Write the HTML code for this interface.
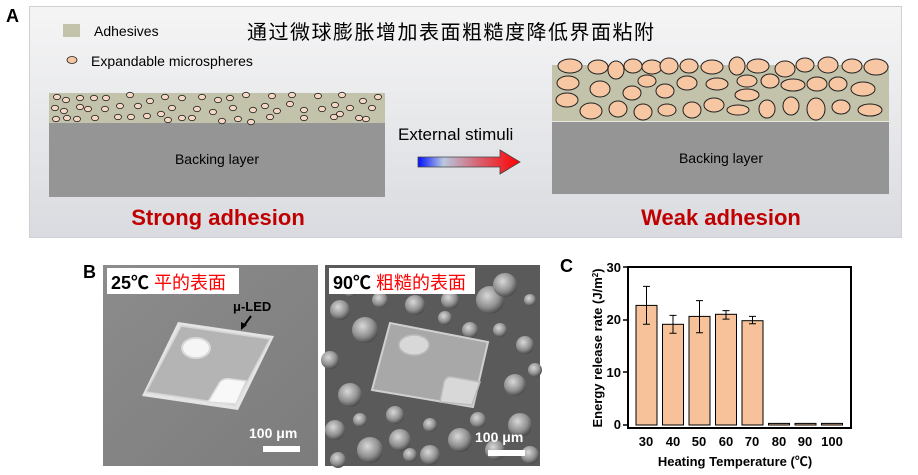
<!DOCTYPE html>
<html><head><meta charset="utf-8"><style>
body{margin:0;background:#fff;}
svg{display:block;font-family:"Liberation Sans","Noto Sans CJK SC",sans-serif;}
</style></head><body>
<svg width="918" height="475" viewBox="0 0 918 475" xmlns="http://www.w3.org/2000/svg">
<defs>
<linearGradient id="bg" x1="0" y1="0" x2="0" y2="1"><stop offset="0" stop-color="#f5f5f5"/><stop offset="1" stop-color="#d9dbe0"/></linearGradient>
<linearGradient id="arr" x1="0" x2="1"><stop offset="0" stop-color="#0010ff"/><stop offset="0.25" stop-color="#b8c8e0"/><stop offset="0.6" stop-color="#d86070"/><stop offset="1" stop-color="#ff0000"/></linearGradient>
<linearGradient id="sem1" x1="0" y1="0" x2="1" y2="1"><stop offset="0" stop-color="#8c8c8c"/><stop offset="1" stop-color="#7c7c7c"/></linearGradient>
<radialGradient id="bub" cx="0.4" cy="0.35" r="0.7"><stop offset="0" stop-color="#d8d8d8"/><stop offset="0.6" stop-color="#909090"/><stop offset="1" stop-color="#404040"/></radialGradient>
</defs>
<text x="6" y="22" font-size="18" font-weight="bold">A</text>
<rect x="29.5" y="6.5" width="872" height="231" fill="url(#bg)" stroke="#d0d0d0"/>
<rect x="63" y="24" width="17" height="13" fill="#c3c2aa"/>
<text x="94" y="36" font-size="14">Adhesives</text>
<ellipse cx="72" cy="60" rx="5" ry="3.5" fill="#f7c6a3" stroke="#222" stroke-width="0.8"/>
<text x="91" y="66" font-size="14">Expandable  microspheres</text>
<text x="247" y="39" font-size="20" letter-spacing="1.5">通过微球膨胀增加表面粗糙度降低界面粘附</text>
<rect x="49" y="93" width="336" height="30" fill="#c3c2aa"/>
<rect x="49" y="123" width="336" height="74" fill="#959595"/>
<text x="217" y="164" font-size="14" text-anchor="middle">Backing layer</text>
<g fill="#f7d8c4" stroke="#222" stroke-width="0.8">
<ellipse cx="57" cy="97" rx="3.5" ry="2.7"/><ellipse cx="66" cy="100" rx="3.5" ry="2.7"/><ellipse cx="80" cy="98" rx="3.5" ry="2.7"/><ellipse cx="94" cy="98" rx="3.5" ry="2.7"/><ellipse cx="106" cy="98" rx="3.5" ry="2.7"/><ellipse cx="130" cy="95" rx="3.5" ry="2.7"/><ellipse cx="150" cy="101" rx="3.5" ry="2.7"/><ellipse cx="165" cy="97" rx="3.5" ry="2.7"/><ellipse cx="182" cy="98" rx="3.5" ry="2.7"/><ellipse cx="202" cy="97" rx="3.5" ry="2.7"/><ellipse cx="218" cy="100" rx="3.5" ry="2.7"/><ellipse cx="230" cy="98" rx="3.5" ry="2.7"/><ellipse cx="246" cy="95" rx="3.5" ry="2.7"/><ellipse cx="272" cy="96" rx="3.5" ry="2.7"/><ellipse cx="292" cy="95" rx="3.5" ry="2.7"/><ellipse cx="318" cy="96" rx="3.5" ry="2.7"/><ellipse cx="342" cy="95" rx="3.5" ry="2.7"/><ellipse cx="363" cy="101" rx="3.5" ry="2.7"/><ellipse cx="378" cy="97" rx="3.5" ry="2.7"/>
<ellipse cx="55" cy="108" rx="3.5" ry="2.7"/><ellipse cx="64" cy="111" rx="3.5" ry="2.7"/><ellipse cx="80" cy="107" rx="3.5" ry="2.7"/><ellipse cx="88" cy="109" rx="3.5" ry="2.7"/><ellipse cx="105" cy="109" rx="3.5" ry="2.7"/><ellipse cx="120" cy="106" rx="3.5" ry="2.7"/><ellipse cx="138" cy="106" rx="3.5" ry="2.7"/><ellipse cx="172" cy="108" rx="3.5" ry="2.7"/><ellipse cx="197" cy="109" rx="3.5" ry="2.7"/><ellipse cx="213" cy="112" rx="3.5" ry="2.7"/><ellipse cx="233" cy="108" rx="3.5" ry="2.7"/><ellipse cx="253" cy="110" rx="3.5" ry="2.7"/><ellipse cx="265" cy="106" rx="3.5" ry="2.7"/><ellipse cx="277" cy="111" rx="3.5" ry="2.7"/><ellipse cx="290" cy="104" rx="3.5" ry="2.7"/><ellipse cx="304" cy="110" rx="3.5" ry="2.7"/><ellipse cx="322" cy="109" rx="3.5" ry="2.7"/><ellipse cx="335" cy="105" rx="3.5" ry="2.7"/><ellipse cx="350" cy="108" rx="3.5" ry="2.7"/><ellipse cx="372" cy="108" rx="3.5" ry="2.7"/>
<ellipse cx="56" cy="119" rx="3.5" ry="2.7"/><ellipse cx="67" cy="118" rx="3.5" ry="2.7"/><ellipse cx="77" cy="119" rx="3.5" ry="2.7"/><ellipse cx="95" cy="118" rx="3.5" ry="2.7"/><ellipse cx="118" cy="117" rx="3.5" ry="2.7"/><ellipse cx="131" cy="117" rx="3.5" ry="2.7"/><ellipse cx="147" cy="116" rx="3.5" ry="2.7"/><ellipse cx="161" cy="114" rx="3.5" ry="2.7"/><ellipse cx="168" cy="120" rx="3.5" ry="2.7"/><ellipse cx="182" cy="118" rx="3.5" ry="2.7"/><ellipse cx="192" cy="118" rx="3.5" ry="2.7"/><ellipse cx="222" cy="121" rx="3.5" ry="2.7"/><ellipse cx="238" cy="119" rx="3.5" ry="2.7"/><ellipse cx="251" cy="122" rx="3.5" ry="2.7"/><ellipse cx="270" cy="117" rx="3.5" ry="2.7"/><ellipse cx="304" cy="118" rx="3.5" ry="2.7"/><ellipse cx="334" cy="117" rx="3.5" ry="2.7"/><ellipse cx="340" cy="114" rx="3.5" ry="2.7"/><ellipse cx="359" cy="118" rx="3.5" ry="2.7"/><ellipse cx="366" cy="119" rx="3.5" ry="2.7"/>
</g>
<text x="218" y="225" font-size="22" font-weight="bold" fill="#c00000" text-anchor="middle">Strong adhesion</text>
<text x="398" y="140" font-size="17">External stimuli</text>
<path d="M418,157 L500,157 L500,150 L520,162 L500,174 L500,167 L418,167 Z" fill="url(#arr)" stroke="#444" stroke-width="0.8"/>
<rect x="552" y="65" width="337" height="56" fill="#c3c2aa"/>
<rect x="552" y="121" width="337" height="1.5" fill="#e8e8e0"/>
<rect x="552" y="122" width="337" height="72" fill="#959595"/>
<text x="721" y="163" font-size="14" text-anchor="middle">Backing layer</text>
<g fill="#f7c6a3" stroke="#222" stroke-width="1">
<ellipse cx="570" cy="66" rx="12" ry="7"/><ellipse cx="598" cy="67" rx="10" ry="7"/><ellipse cx="616" cy="70" rx="8" ry="9"/><ellipse cx="633" cy="66" rx="9" ry="7"/><ellipse cx="652" cy="67" rx="10" ry="7"/><ellipse cx="669" cy="66" rx="9" ry="8"/><ellipse cx="689" cy="66" rx="9" ry="7"/><ellipse cx="712" cy="67" rx="11" ry="7"/><ellipse cx="737" cy="66" rx="8" ry="9"/><ellipse cx="758" cy="66" rx="11" ry="7"/><ellipse cx="785" cy="69" rx="10" ry="8"/><ellipse cx="805" cy="65" rx="9" ry="7"/><ellipse cx="828" cy="65" rx="10" ry="8"/><ellipse cx="852" cy="66" rx="10" ry="7"/><ellipse cx="876" cy="67" rx="12" ry="8"/>
<ellipse cx="568" cy="83" rx="11" ry="7"/><ellipse cx="600" cy="89" rx="10" ry="8"/><ellipse cx="632" cy="93" rx="9" ry="7"/><ellipse cx="647" cy="81" rx="9" ry="6"/><ellipse cx="665" cy="91" rx="9" ry="7"/><ellipse cx="687" cy="83" rx="10" ry="7"/><ellipse cx="717" cy="84" rx="11" ry="6"/><ellipse cx="747" cy="81" rx="10" ry="6"/><ellipse cx="770" cy="81" rx="9" ry="7"/><ellipse cx="793" cy="85" rx="12" ry="6"/><ellipse cx="817" cy="84" rx="10" ry="7"/><ellipse cx="838" cy="84" rx="9" ry="7"/><ellipse cx="863" cy="89" rx="12" ry="7"/>
<ellipse cx="567" cy="100" rx="11" ry="7"/><ellipse cx="747" cy="95" rx="12" ry="6"/>
<ellipse cx="591" cy="111" rx="11" ry="8"/><ellipse cx="618" cy="109" rx="9" ry="8"/><ellipse cx="643" cy="112" rx="9" ry="8"/><ellipse cx="667" cy="110" rx="9" ry="6"/><ellipse cx="692" cy="110" rx="9" ry="8"/><ellipse cx="714" cy="105" rx="10" ry="7"/><ellipse cx="738" cy="110" rx="11" ry="5"/><ellipse cx="767" cy="109" rx="8" ry="9"/><ellipse cx="791" cy="106" rx="8" ry="9"/><ellipse cx="816" cy="109" rx="9" ry="11"/><ellipse cx="841" cy="107" rx="9" ry="7"/><ellipse cx="870" cy="110" rx="12" ry="6"/>
</g>
<text x="721" y="225" font-size="22" font-weight="bold" fill="#c00000" text-anchor="middle">Weak adhesion</text>
<!-- B -->
<text x="83" y="278" font-size="18" font-weight="bold">B</text>
<rect x="103" y="265" width="215" height="201" fill="url(#sem1)"/>
<polygon points="142,396 178,322 274,336 238,410" fill="#e4e4e4"/>
<polygon points="146,392 181,326 270,339 235,405" fill="#b4b4b4" stroke="#d4d4d4" stroke-width="1.5"/>
<ellipse cx="196" cy="348" rx="14" ry="10" fill="#f5f5f5" stroke="#d8d8d8" stroke-width="2"/>
<path d="M208,402 L220,382 Q224,378 230,379 L246,381 L236,404 Z" fill="#f8f8f8" stroke="#ddd" stroke-width="1.5"/>
<rect x="107" y="268" width="132" height="26" fill="#fff"/>
<text x="111" y="289" font-size="18" font-weight="bold">25℃ <tspan fill="#ff0000" font-weight="normal">平的表面</tspan></text>
<text x="233" y="311" font-size="13" font-weight="bold">μ-LED</text>
<path d="M251,316 L243,327" stroke="#000" stroke-width="2"/><path d="M241,330 L241,322 L247,325 Z" fill="#000"/>
<text x="249" y="438" font-size="14" font-weight="bold" fill="#fff">100 μm</text>
<rect x="263" y="446" width="37" height="6" fill="#fff"/>
<rect x="325" y="265" width="215" height="201" fill="#5a5a5a"/>
<g fill="url(#bub)">
<circle cx="340" cy="310" r="10"/><circle cx="365" cy="330" r="13"/><circle cx="330" cy="360" r="9"/><circle cx="350" cy="395" r="12"/><circle cx="335" cy="430" r="10"/><circle cx="370" cy="450" r="13"/><circle cx="400" cy="440" r="11"/><circle cx="430" cy="455" r="10"/><circle cx="460" cy="440" r="12"/><circle cx="495" cy="450" r="10"/><circle cx="520" cy="425" r="12"/><circle cx="515" cy="385" r="11"/><circle cx="525" cy="345" r="9"/><circle cx="490" cy="300" r="14"/><circle cx="505" cy="285" r="12"/><circle cx="450" cy="300" r="9"/><circle cx="415" cy="305" r="10"/><circle cx="380" cy="300" r="8"/><circle cx="470" cy="330" r="8"/><circle cx="385" cy="375" r="7"/><circle cx="478" cy="420" r="8"/><circle cx="350" cy="290" r="7"/><circle cx="530" cy="300" r="6"/>
<circle cx="338" cy="460" r="8"/><circle cx="395" cy="415" r="9"/><circle cx="430" cy="425" r="7"/><circle cx="530" cy="455" r="9"/><circle cx="500" cy="330" r="7"/><circle cx="360" cy="420" r="7"/><circle cx="445" cy="318" r="7"/><circle cx="410" cy="455" r="7"/><circle cx="535" cy="370" r="7"/>
</g>
<polygon points="372,390 390,323 488,342 473,407" fill="#a8a8a8" stroke="#d0d0d0" stroke-width="2"/>
<ellipse cx="414" cy="345" rx="15" ry="10" fill="#d8d8d8" stroke="#bbb" stroke-width="1.5"/>
<path d="M440,402 L444,382 Q446,376 452,377 L480,382 L472,405 Z" fill="#d8d8d8" stroke="#bbb" stroke-width="1.5"/>
<rect x="329" y="268" width="146" height="26" fill="#fff"/>
<text x="333" y="289" font-size="18" font-weight="bold">90℃ <tspan fill="#ff0000" font-weight="normal">粗糙的表面</tspan></text>
<text x="475" y="442" font-size="14" font-weight="bold" fill="#fff">100 μm</text>
<rect x="488" y="450" width="37" height="6" fill="#fff"/>
<!-- C -->
<text x="560" y="272" font-size="18" font-weight="bold">C</text>
<g font-size="13" font-weight="bold" text-anchor="end">
<text x="621" y="272">30</text><text x="621" y="324">20</text><text x="621" y="377">10</text><text x="621" y="429">0</text>
</g>
<g stroke="#000" stroke-width="1.5">
<line x1="623" y1="267" x2="628" y2="267"/><line x1="623" y1="320" x2="628" y2="320"/><line x1="623" y1="372" x2="628" y2="372"/><line x1="623" y1="425" x2="628" y2="425"/>
</g>
<g fill="#f7c29a" stroke="#000" stroke-width="1">
<rect x="636" y="305.4" width="21" height="119.6"/><rect x="662.5" y="324.3" width="21" height="100.7"/><rect x="689" y="316.4" width="21" height="108.6"/><rect x="715.5" y="314.3" width="21" height="110.7"/><rect x="742" y="320.7" width="21" height="104.3"/><rect x="768.5" y="423.4" width="21" height="1.6"/><rect x="795" y="423.4" width="21" height="1.6"/><rect x="821.5" y="423.4" width="21" height="1.6"/>
</g>
<g stroke="#000" stroke-width="1">
<path d="M646.5,286.4V324.3M643,286.4h7M643,324.3h7"/>
<path d="M673,315.4V333.3M669.5,315.4h7M669.5,333.3h7"/>
<path d="M699.5,300.6V332.8M696,300.6h7M696,332.8h7"/>
<path d="M726,310.6V319.1M722.5,310.6h7M722.5,319.1h7"/>
<path d="M752.5,316.4V323.8M749,316.4h7M749,323.8h7"/>
</g>
<rect x="628" y="267" width="223" height="161" fill="none" stroke="#000" stroke-width="2"/>
<g font-size="13" font-weight="bold" text-anchor="middle">
<text x="646" y="446">30</text><text x="673" y="446">40</text><text x="699" y="446">50</text><text x="726" y="446">60</text><text x="752" y="446">70</text><text x="779" y="446">80</text><text x="805" y="446">90</text><text x="832" y="446">100</text>
</g>
<text x="735" y="466" font-size="13" font-weight="bold" text-anchor="middle">Heating Temperature (℃)</text>
<text transform="translate(602,348) rotate(-90)" font-size="13" font-weight="bold" text-anchor="middle">Energy release rate (J/m<tspan font-size="8" dy="-4">2</tspan><tspan dy="4">)</tspan></text>
</svg>
</body></html>
